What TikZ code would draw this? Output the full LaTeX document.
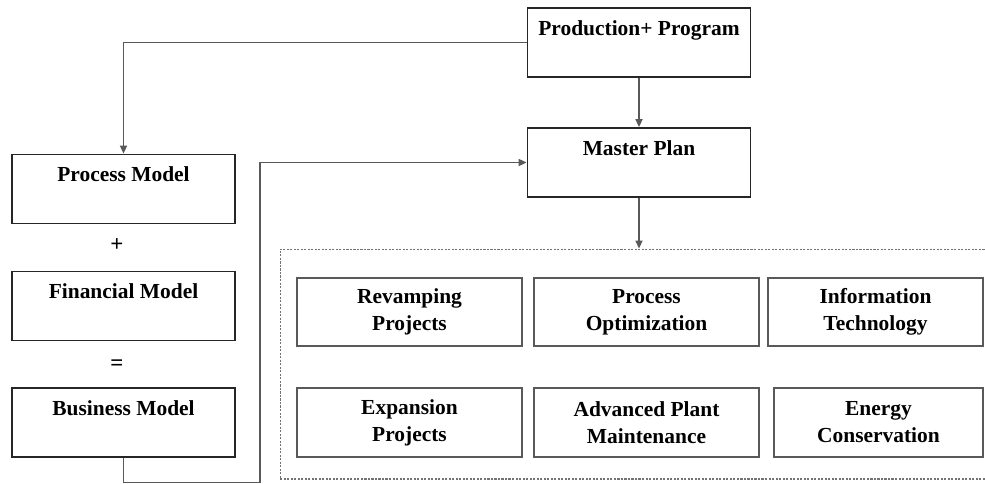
\documentclass[tikz,border=0pt]{standalone}
\usepackage{fontspec}
\setmainfont{Liberation Serif}
\usetikzlibrary{arrows.meta}
\tikzset{
  block/.style={draw=black!85, line width=1.1pt, minimum width=4.46cm, minimum height=1.38cm, inner sep=0pt, align=center, font=\fontsize{12.2pt}{15.3pt}\selectfont\bfseries},
  project/.style={block, draw=black!65, minimum width=4.5cm, minimum height=1.37cm},
  link/.style={draw=black!65, line width=0.9pt, -{Triangle[length=4.5pt,width=4pt]}},
}
\begin{document}
\begin{tikzpicture}[x=0.02cm, y=-0.02cm]
\useasboundingbox (0,0) rectangle (985,484);
% left column
\node[block] (procmodel) at (123.5,189) {Process Model\\[-3pt]\strut};
\node[block] (finmodel) at (123.5,306) {Financial Model\\[-3pt]\strut};
\node[block] (busmodel) at (123.5,422.5) {Business Model\\[-3pt]\strut};
\node[font=\fontsize{13pt}{15.3pt}\selectfont\bfseries] (plus) at (117,245) {+};
\node[font=\fontsize{13pt}{15.3pt}\selectfont\bfseries] (equals) at (117,365) {=};
% top
\node[block] (prod) at (639,42.5) {Production+ Program\\[-3pt]\strut};
\node[block] (master) at (639,162.5) {Master Plan\\[-3pt]\strut};
% projects
\node[draw=black!55, dash pattern=on 1.2pt off 0.8pt, line width=0.6pt, minimum width=14.2cm, minimum height=4.6cm] (projects) at (635,364) {};
\node[project] (revamp) at (409.5,312) {Revamping\\Projects};
\node[project] (procopt) at (646.5,312) {Process\\Optimization};
\node[project, minimum width=4.3cm] (infotech) at (875.5,312) {Information\\Technology};
\node[project] (expansion) at (409.5,422.5) {Expansion\\Projects};
\node[project] (advanced) at (646.5,422.5) {Advanced Plant\\Maintenance};
\node[project, minimum width=4.18cm] (energy) at (878.5,422.5) {Energy\\Conservation};
% connectors
\coordinate (loop) at (260,482.5);
\draw[link] (prod.west) -| (procmodel.north);
\draw[link] (prod.south) -- (master.north);
\draw[link] (master.south) -- (master.south |- projects.north);
\draw[link] (busmodel.south) |- (loop) |- (master.west);
\end{tikzpicture}
\end{document}
